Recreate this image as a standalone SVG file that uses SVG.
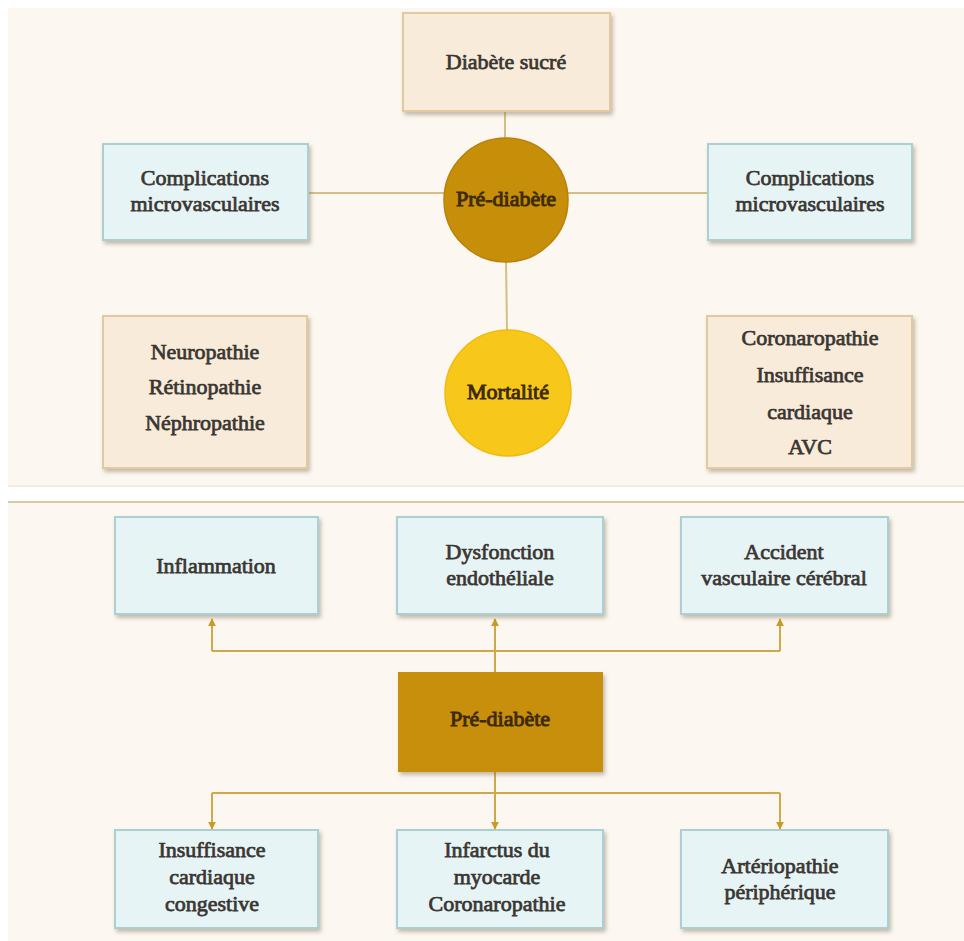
<svg xmlns="http://www.w3.org/2000/svg" width="964" height="941" viewBox="0 0 964 941">
<defs>
<style>
.t{font-family:"Liberation Serif","Times New Roman",serif;font-size:22px;fill:#3a3632;stroke:#3a3632;stroke-width:0.75;text-anchor:middle}
.td{font-family:"Liberation Serif","Times New Roman",serif;font-size:22px;fill:#3d2a06;stroke:#3d2a06;stroke-width:0.95;text-anchor:middle}
.peach{fill:#f8ebda;stroke:#e3c9a0;stroke-width:2}
.blue{fill:#e7f4f6;stroke:#aacfd4;stroke-width:2}
.ln{stroke:#d5bd85;stroke-width:2;fill:none}
.ar{stroke:#cfa848;stroke-width:2;fill:none}
</style>
<filter id="sh" x="-10%" y="-10%" width="125%" height="130%">
<feDropShadow dx="2" dy="3" stdDeviation="2" flood-color="#7a6a50" flood-opacity="0.45"/>
</filter>
<marker id="ah" viewBox="0 0 10 10" refX="9" refY="5" markerWidth="4" markerHeight="6" orient="auto" markerUnits="strokeWidth">
<path d="M0,0 L10,5 L0,10 Z" fill="#c99a24"/>
</marker>
</defs>
<rect x="0" y="0" width="964" height="941" fill="#ffffff"/>
<rect x="8" y="8" width="956" height="477" fill="#fcf8f1"/>
<line x1="8" y1="486" x2="964" y2="486" stroke="#e6dcc6" stroke-width="1"/>
<rect x="8" y="502" width="956" height="439" fill="#fcf8f1"/>
<line x1="8" y1="502" x2="964" y2="502" stroke="#cdb98a" stroke-width="1.5"/>

<g id="connectors">
<line class="ln" x1="505" y1="111" x2="505" y2="140"/>
<line class="ln" x1="308" y1="193" x2="446" y2="193"/>
<line class="ln" x1="567" y1="193" x2="708" y2="193"/>
<line class="ln" x1="506" y1="260" x2="507" y2="331"/>
<path class="ar" d="M495,672 V651 M212,651 H780"/>
<path class="ar" d="M212,651 V619" marker-end="url(#ah)"/>
<path class="ar" d="M495,651 V619" marker-end="url(#ah)"/>
<path class="ar" d="M780,651 V619" marker-end="url(#ah)"/>
<path class="ar" d="M495,772 V793 M212,793 H780"/>
<path class="ar" d="M212,793 V829" marker-end="url(#ah)"/>
<path class="ar" d="M495,793 V829" marker-end="url(#ah)"/>
<path class="ar" d="M780,793 V829" marker-end="url(#ah)"/>
</g>

<g id="diabete-sucre">
<rect class="peach" x="403" y="13" width="207" height="98" filter="url(#sh)"/>
<text class="t" x="506" y="69">Diabète sucré</text>
</g>
<g id="complications-left">
<rect class="blue" x="103" y="144" width="205" height="96" filter="url(#sh)"/>
<text class="t" x="205" y="185">Complications</text>
<text class="t" x="205" y="211">microvasculaires</text>
</g>
<g id="complications-right">
<rect class="blue" x="708" y="144" width="204" height="96" filter="url(#sh)"/>
<text class="t" x="810" y="185">Complications</text>
<text class="t" x="810" y="211">microvasculaires</text>
</g>
<g id="prediabete-circle">
<circle cx="506" cy="200" r="62" fill="#c68e09" stroke="#b88208" stroke-width="1.5"/>
<text class="td" x="506" y="206">Pré-diabète</text>
</g>
<g id="mortalite">
<circle cx="508" cy="393" r="63" fill="#f7c71a" stroke="#eebb10" stroke-width="1.5"/>
<text class="td" x="508" y="399">Mortalité</text>
</g>
<g id="micro-list">
<rect class="peach" x="103" y="316" width="204" height="152" filter="url(#sh)"/>
<text class="t" x="205" y="359">Neuropathie</text>
<text class="t" x="205" y="394">Rétinopathie</text>
<text class="t" x="205" y="430">Néphropathie</text>
</g>
<g id="macro-list">
<rect class="peach" x="707" y="316" width="205" height="152" filter="url(#sh)"/>
<text class="t" x="810" y="345">Coronaropathie</text>
<text class="t" x="810" y="382">Insuffisance</text>
<text class="t" x="810" y="419">cardiaque</text>
<text class="t" x="810" y="454">AVC</text>
</g>

<g id="inflammation">
<rect class="blue" x="115" y="517" width="203" height="97" filter="url(#sh)"/>
<text class="t" x="216" y="573">Inflammation</text>
</g>
<g id="dysfonction">
<rect class="blue" x="397" y="517" width="206" height="97" filter="url(#sh)"/>
<text class="t" x="500" y="559">Dysfonction</text>
<text class="t" x="500" y="585">endothéliale</text>
</g>
<g id="avc">
<rect class="blue" x="681" y="517" width="207" height="97" filter="url(#sh)"/>
<text class="t" x="784" y="559">Accident</text>
<text class="t" x="784" y="585">vasculaire cérébral</text>
</g>
<g id="prediabete-box">
<rect x="398" y="672" width="205" height="100" fill="#c88f0b" filter="url(#sh)"/>
<text class="td" x="500" y="726">Pré-diabète</text>
</g>
<g id="insuffisance">
<rect class="blue" x="115" y="830" width="203" height="98" filter="url(#sh)"/>
<text class="t" x="212" y="857">Insuffisance</text>
<text class="t" x="212" y="884">cardiaque</text>
<text class="t" x="212" y="911">congestive</text>
</g>
<g id="infarctus">
<rect class="blue" x="397" y="830" width="206" height="98" filter="url(#sh)"/>
<text class="t" x="497" y="857">Infarctus du</text>
<text class="t" x="497" y="884">myocarde</text>
<text class="t" x="497" y="911">Coronaropathie</text>
</g>
<g id="arteriopathie">
<rect class="blue" x="681" y="830" width="207" height="98" filter="url(#sh)"/>
<text class="t" x="780" y="873">Artériopathie</text>
<text class="t" x="780" y="899">périphérique</text>
</g>
</svg>
